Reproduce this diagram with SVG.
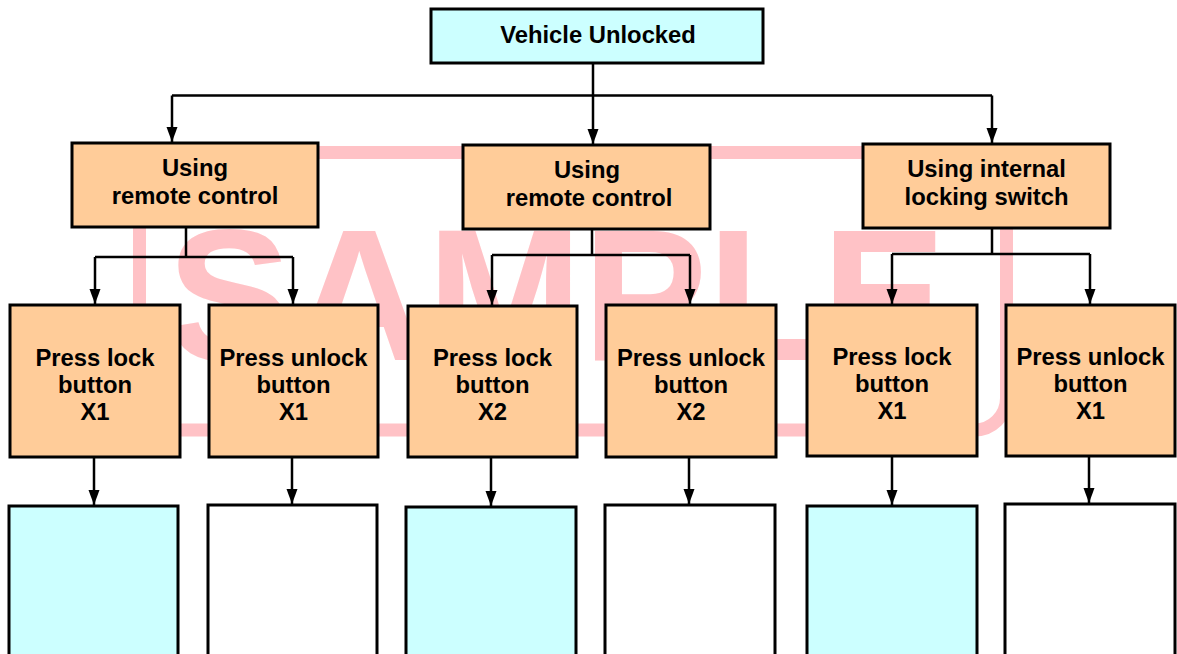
<svg xmlns="http://www.w3.org/2000/svg" width="1177" height="654" viewBox="0 0 1177 654">
<style>
.box{stroke:#000;stroke-width:3}
.orange{fill:#FFCC99}
.cyan{fill:#CCFFFF}
.white{fill:#FFFFFF}
.lbl{font-family:"Liberation Sans",Arial,sans-serif;font-weight:bold;font-size:23.8px;fill:#000;text-anchor:middle}
.conn{fill:none;stroke:#000;stroke-width:2.5}
.wm{fill:none;stroke:#FFC2C6;stroke-width:13}
.wmtext{font-family:"Liberation Sans",Arial,sans-serif;font-weight:bold;font-size:187px;fill:#FFC2C6}
</style>
<defs>
<marker id="arr" markerUnits="userSpaceOnUse" markerWidth="16" markerHeight="12" refX="15" refY="5.5" orient="auto">
<path d="M0,0 L15,5.5 L0,11 z" fill="#000"/>
</marker>
</defs>
<rect width="1177" height="654" fill="#FFFFFF"/>
<g id="watermark">
<rect class="wm" x="139.5" y="152.5" width="867" height="277.5" rx="32" ry="32"/>
<text class="wmtext" x="167" y="360">SAMPLE</text>
</g>
<g id="connectors">
<path class="conn" d="M593,64 V95.5 M172,95.5 H992"/>
<path class="conn" d="M172,95.5 V142" marker-end="url(#arr)"/>
<path class="conn" d="M593,95.5 V144" marker-end="url(#arr)"/>
<path class="conn" d="M992,95.5 V143" marker-end="url(#arr)"/>
<path class="conn" d="M186,227 V257 M95,257 H293"/>
<path class="conn" d="M95,257 V304" marker-end="url(#arr)"/>
<path class="conn" d="M293,257 V304" marker-end="url(#arr)"/>
<path class="conn" d="M592,229 V255 M492,255 H690"/>
<path class="conn" d="M492,255 V305" marker-end="url(#arr)"/>
<path class="conn" d="M690,255 V304" marker-end="url(#arr)"/>
<path class="conn" d="M992,228 V254 M892,254 H1090"/>
<path class="conn" d="M892,254 V304" marker-end="url(#arr)"/>
<path class="conn" d="M1090,254 V304" marker-end="url(#arr)"/>
<path class="conn" d="M94,457 V505" marker-end="url(#arr)"/>
<path class="conn" d="M292,457 V504" marker-end="url(#arr)"/>
<path class="conn" d="M491,457 V506" marker-end="url(#arr)"/>
<path class="conn" d="M689,457 V504" marker-end="url(#arr)"/>
<path class="conn" d="M892,456 V505" marker-end="url(#arr)"/>
<path class="conn" d="M1089,456 V503" marker-end="url(#arr)"/>
</g>
<g id="vehicle-unlocked">
<rect class="box cyan" x="431" y="9" width="332" height="54"/>
<text class="lbl" x="598" y="43">Vehicle Unlocked</text>
</g>
<g id="remote-control-1">
<rect class="box orange" x="72" y="143" width="246" height="84"/>
<text class="lbl" x="195" y="176">Using</text>
<text class="lbl" x="195" y="204">remote control</text>
</g>
<g id="remote-control-2">
<rect class="box orange" x="463" y="145" width="247" height="84"/>
<text class="lbl" x="587" y="178">Using</text>
<text class="lbl" x="589" y="206">remote control</text>
</g>
<g id="internal-switch">
<rect class="box orange" x="863" y="144" width="247" height="84"/>
<text class="lbl" x="986.5" y="177">Using internal</text>
<text class="lbl" x="986.5" y="205">locking switch</text>
</g>
<g id="press-lock-x1-a">
<rect class="box orange" x="10" y="305" width="170" height="152"/>
<text class="lbl" x="95" y="366">Press lock</text>
<text class="lbl" x="95" y="393">button</text>
<text class="lbl" x="95" y="420">X1</text>
</g>
<g id="press-unlock-x1-a">
<rect class="box orange" x="209" y="305" width="169" height="152"/>
<text class="lbl" x="293.5" y="366">Press unlock</text>
<text class="lbl" x="293.5" y="393">button</text>
<text class="lbl" x="293.5" y="420">X1</text>
</g>
<g id="press-lock-x2">
<rect class="box orange" x="408" y="306" width="169" height="151"/>
<text class="lbl" x="492.5" y="366">Press lock</text>
<text class="lbl" x="492.5" y="393">button</text>
<text class="lbl" x="492.5" y="420">X2</text>
</g>
<g id="press-unlock-x2">
<rect class="box orange" x="606" y="305" width="170" height="152"/>
<text class="lbl" x="691" y="366">Press unlock</text>
<text class="lbl" x="691" y="393">button</text>
<text class="lbl" x="691" y="420">X2</text>
</g>
<g id="press-lock-x1-b">
<rect class="box orange" x="807" y="305" width="170" height="151"/>
<text class="lbl" x="892" y="365">Press lock</text>
<text class="lbl" x="892" y="392">button</text>
<text class="lbl" x="892" y="419">X1</text>
</g>
<g id="press-unlock-x1-b">
<rect class="box orange" x="1006" y="305" width="169" height="151"/>
<text class="lbl" x="1090.5" y="365">Press unlock</text>
<text class="lbl" x="1090.5" y="392">button</text>
<text class="lbl" x="1090.5" y="419">X1</text>
</g>
<g id="result-1"><rect class="box cyan" x="9" y="506" width="169" height="160"/></g>
<g id="result-2"><rect class="box white" x="208" y="505" width="169" height="160"/></g>
<g id="result-3"><rect class="box cyan" x="406" y="507" width="170" height="160"/></g>
<g id="result-4"><rect class="box white" x="605" y="505" width="170" height="160"/></g>
<g id="result-5"><rect class="box cyan" x="807" y="506" width="170" height="160"/></g>
<g id="result-6"><rect class="box white" x="1005" y="504" width="170" height="160"/></g>
</svg>
